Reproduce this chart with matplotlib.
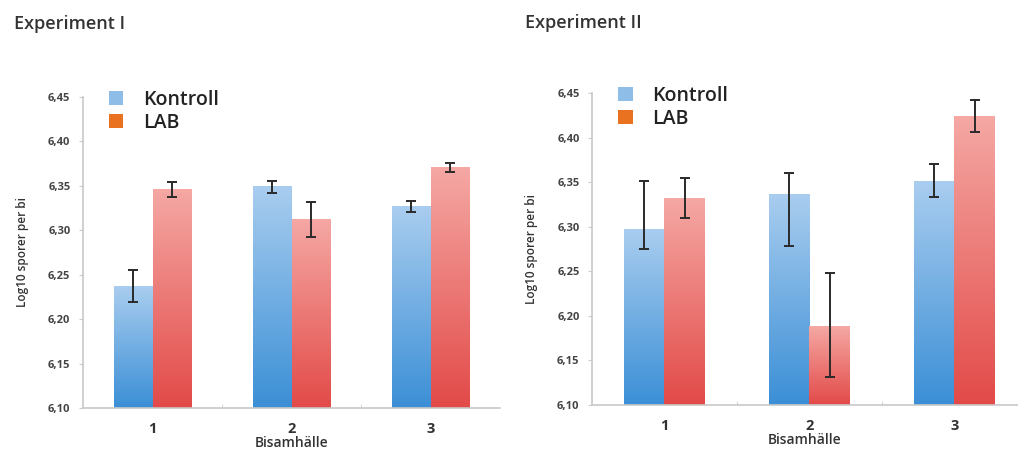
import numpy as np
import matplotlib
matplotlib.use("Agg")
import matplotlib.pyplot as plt
from matplotlib.colors import LinearSegmentedColormap
from matplotlib.patches import Patch

plt.rcParams['font.family'] = ['Open Sans', 'DejaVu Sans']

categories = ["1", "2", "3"]
series = ["Kontroll", "LAB"]

# Experiment I
exp1_kontroll = [6.237, 6.349, 6.327]
exp1_kontroll_err = [0.018, 0.007, 0.006]
exp1_lab = [6.346, 6.312, 6.371]
exp1_lab_err = [0.008, 0.020, 0.005]

# Experiment II (asymmetric: lower, upper)
exp2_kontroll = [6.297, 6.336, 6.351]
exp2_kontroll_err_lo = [0.022, 0.057, 0.018]
exp2_kontroll_err_hi = [0.055, 0.024, 0.020]
exp2_lab = [6.332, 6.188, 6.424]
exp2_lab_err_lo = [0.022, 0.057, 0.017]
exp2_lab_err_hi = [0.023, 0.060, 0.018]

titles = ["Experiment I", "Experiment II"]
ylabel = "Log10 sporer per bi"
xlabel = "Bisamhälle"
yticks = [6.10, 6.15, 6.20, 6.25, 6.30, 6.35, 6.40, 6.45]

blue_cmap = LinearSegmentedColormap.from_list("b", ["#3b8fd6", "#a9cdef"])
red_cmap = LinearSegmentedColormap.from_list("r", ["#e24a48", "#f5a8a4"])

fig = plt.figure(figsize=(10.18, 4.54), dpi=100)

ax1 = fig.add_axes([83/1018, 1-408/454, 417/1018, (408-97)/454])
ax2 = fig.add_axes([592/1018, 1-405/454, 426/1018, (405-93.3)/454])

gradient = np.linspace(0, 1, 256).reshape(-1, 1)

def draw(ax, k, kerr, l, lerr, xmax):
    x = np.arange(len(categories))
    w = 0.28
    ymin = 6.10
    bk = ax.bar(x - w/2, np.array(k) - ymin, w, bottom=ymin, color='none', edgecolor='none')
    bl = ax.bar(x + w/2, np.array(l) - ymin, w, bottom=ymin, color='none', edgecolor='none')
    for bars, cmap in ((bk, blue_cmap), (bl, red_cmap)):
        for p in bars:
            x0, y0 = p.get_x(), p.get_y()
            x1, y1 = x0 + p.get_width(), y0 + p.get_height()
            ax.imshow(gradient, cmap=cmap, extent=[x0, x1, y0, y1], origin='lower',
                      aspect='auto', zorder=1)
    ax.errorbar(x - w/2, k, yerr=kerr, fmt='none', ecolor='#2a2a2a', elinewidth=1.4,
                capsize=3.5, capthick=1.4, zorder=3)
    ax.errorbar(x + w/2, l, yerr=lerr, fmt='none', ecolor='#2a2a2a', elinewidth=1.4,
                capsize=3.5, capthick=1.4, zorder=3)
    ax.set_xlim(-0.5, xmax)
    ax.set_ylim(6.10, 6.45)
    ax.set_yticks(yticks)
    ax.set_yticklabels([f"{v:.2f}".replace('.', ',') for v in yticks],
                       fontsize=8, fontweight='bold', color='#444444')
    ax.set_xticks(x)
    ax.set_xticklabels(categories, fontsize=10.5, fontweight='bold', color='#333333')
    ax.set_xticks([0.5, 1.5], minor=True)
    ax.tick_params(axis='x', which='major', length=0, pad=10)
    ax.tick_params(axis='x', which='minor', length=3, color='#cccccc', direction='in')
    ax.tick_params(axis='y', length=3, color='#cccccc', pad=6)
    for s in ('top', 'right'):
        ax.spines[s].set_visible(False)
    for s in ('left', 'bottom'):
        ax.spines[s].set_color('#c8c8c8')
        ax.spines[s].set_linewidth(1.2)
    ax.set_ylabel(ylabel, fontsize=8.5, fontweight='semibold', color='#333333', labelpad=14)
    ax.set_xlabel(xlabel, fontsize=10, fontweight='semibold', color='#333333', labelpad=0)
    handles = [Patch(facecolor='#8ebde8', edgecolor='none'),
               Patch(facecolor='#e8721f', edgecolor='none')]
    ax.legend(handles, series, loc='upper left', bbox_to_anchor=(0.02, 1.08),
              frameon=False, prop={'size': 14, 'weight': 'semibold'},
              handlelength=0.75, handleheight=0.75,
              handletextpad=1.0, labelspacing=0.15, labelcolor='#222222')

draw(ax1, exp1_kontroll, exp1_kontroll_err, exp1_lab, exp1_lab_err, 2.5)
draw(ax2, exp2_kontroll, [exp2_kontroll_err_lo, exp2_kontroll_err_hi],
     exp2_lab, [exp2_lab_err_lo, exp2_lab_err_hi], 2.44)

fig.text(14/1018, 1-24/454, titles[0], fontsize=13, fontweight='semibold', color='#333333', va='center')
fig.text(525/1018, 1-23/454, titles[1], fontsize=13, fontweight='semibold', color='#333333', va='center')

fig.savefig("out.png", dpi=100)
